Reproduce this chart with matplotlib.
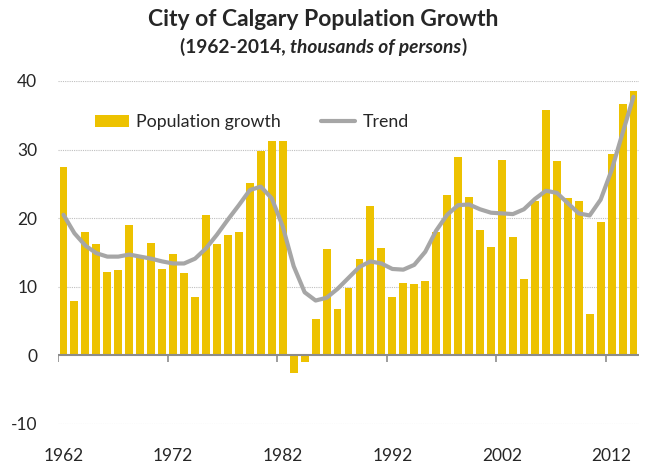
"""City of Calgary population growth, 1962-2014: yearly bars plus a trend line."""
import matplotlib
matplotlib.use('Agg')
import matplotlib.pyplot as plt
import numpy as np

years = list(range(1962, 2015))
growth = [27.4, 7.9, 18.0, 16.2, 12.2, 12.5, 19.0, 14.2, 16.4, 12.6,
          14.8, 12.0, 8.5, 20.4, 16.3, 17.6, 18.0, 25.1, 29.8, 31.3,
          31.3, -2.5, -0.9, 5.3, 15.5, 6.7, 9.8, 14.0, 21.8, 15.7,
          8.5, 10.6, 10.4, 10.9, 18.0, 23.4, 28.9, 23.1, 18.3, 15.8,
          28.5, 17.3, 11.2, 22.5, 35.8, 28.3, 23.0, 22.5, 6.0, 19.5,
          29.3, 36.6, 38.6]
trend = [20.5, 17.8, 16.0, 14.9, 14.4, 14.4, 14.7, 14.4, 14.1, 13.7,
         13.4, 13.4, 14.1, 15.6, 17.6, 19.8, 21.9, 24.1, 24.6, 22.9,
         18.8, 13.0, 9.2, 8.0, 8.4, 9.7, 11.3, 12.9, 13.7, 13.4,
         12.6, 12.5, 13.2, 15.1, 18.2, 20.5, 21.9, 22.0, 21.3, 20.8,
         20.7, 20.6, 21.3, 22.8, 24.0, 23.7, 22.2, 20.7, 20.4, 22.7,
         27.0, 32.4, 37.7]
label_years = [1962, 1972, 1982, 1992, 2002, 2012]
y_ticks = [-10, 0, 10, 20, 30, 40]

BAR = '#EDC200'
TREND = '#A6A6A6'
TEXT = '#262626'

plt.rcParams['font.family'] = ['Lato', 'DejaVu Sans']

fig = plt.figure(figsize=(6.45, 4.68), dpi=100)
ax = fig.add_axes([58 / 645, 1 - 424 / 468, 581 / 645, 343 / 468])

x = np.arange(len(years))
bars = ax.bar(x, growth, width=0.72, color=BAR, label='Population growth', zorder=2)
line, = ax.plot(x, trend, color=TREND, lw=3, solid_joinstyle='round',
                solid_capstyle='round', label='Trend', zorder=3)

ax.set_xlim(-0.5, len(years) - 0.5)
ax.set_ylim(-10, 40)

# gridlines (dotted), zero line solid
for v in y_ticks:
    if v != 0:
        ax.axhline(v, color='#BFBFBF', lw=0.8, ls=(0, (1, 1)), zorder=1)
ax.axhline(0, color='#8C8C8C', lw=1.5, zorder=4)

# small tick marks hanging from the zero line at category boundaries
bounds = [years.index(y) - 0.5 for y in label_years]
ax.vlines(bounds, -1.0, 0, color='#8C8C8C', lw=1.2, zorder=4)

for s in ax.spines.values():
    s.set_visible(False)

ax.set_xticks([years.index(y) for y in label_years])
ax.set_xticklabels([str(y) for y in label_years], fontsize=12.5, color=TEXT)
ax.tick_params(axis='x', length=0, pad=17)
ax.set_yticks(y_ticks)
ax.set_yticklabels([str(v) for v in y_ticks], fontsize=12.5, color=TEXT)
ax.tick_params(axis='y', length=0, pad=15)

ax.legend([bars, line], ['Population growth', 'Trend'],
          loc='center left', bbox_to_anchor=(0.036, 0.88), ncol=2,
          frameon=False, fontsize=12.8, handlelength=1.9, handleheight=0.6,
          handletextpad=0.4, columnspacing=2.3, labelcolor=TEXT)

fig.text(323 / 645, 1 - 20 / 468, 'City of Calgary Population Growth',
         ha='center', va='center', fontsize=16.5, fontweight='bold', color=TEXT)

# subtitle with italic part, centred as a whole
parts = [('(1962-2014, ', 'normal'), ('thousands of persons', 'italic'), (')', 'normal')]
texts = []
for s, style in parts:
    t = fig.text(0, 1 - 47 / 468, s, ha='left', va='center', fontsize=13.8,
                 fontweight='bold', style=style, color=TEXT)
    texts.append(t)
fig.canvas.draw()
r = fig.canvas.get_renderer()
widths = [t.get_window_extent(r).width for t in texts]
xpos = 323 - sum(widths) / 2
for t, w in zip(texts, widths):
    t.set_position((xpos / 645, 1 - 47 / 468))
    xpos += w

fig.savefig('out.png', dpi=100)
